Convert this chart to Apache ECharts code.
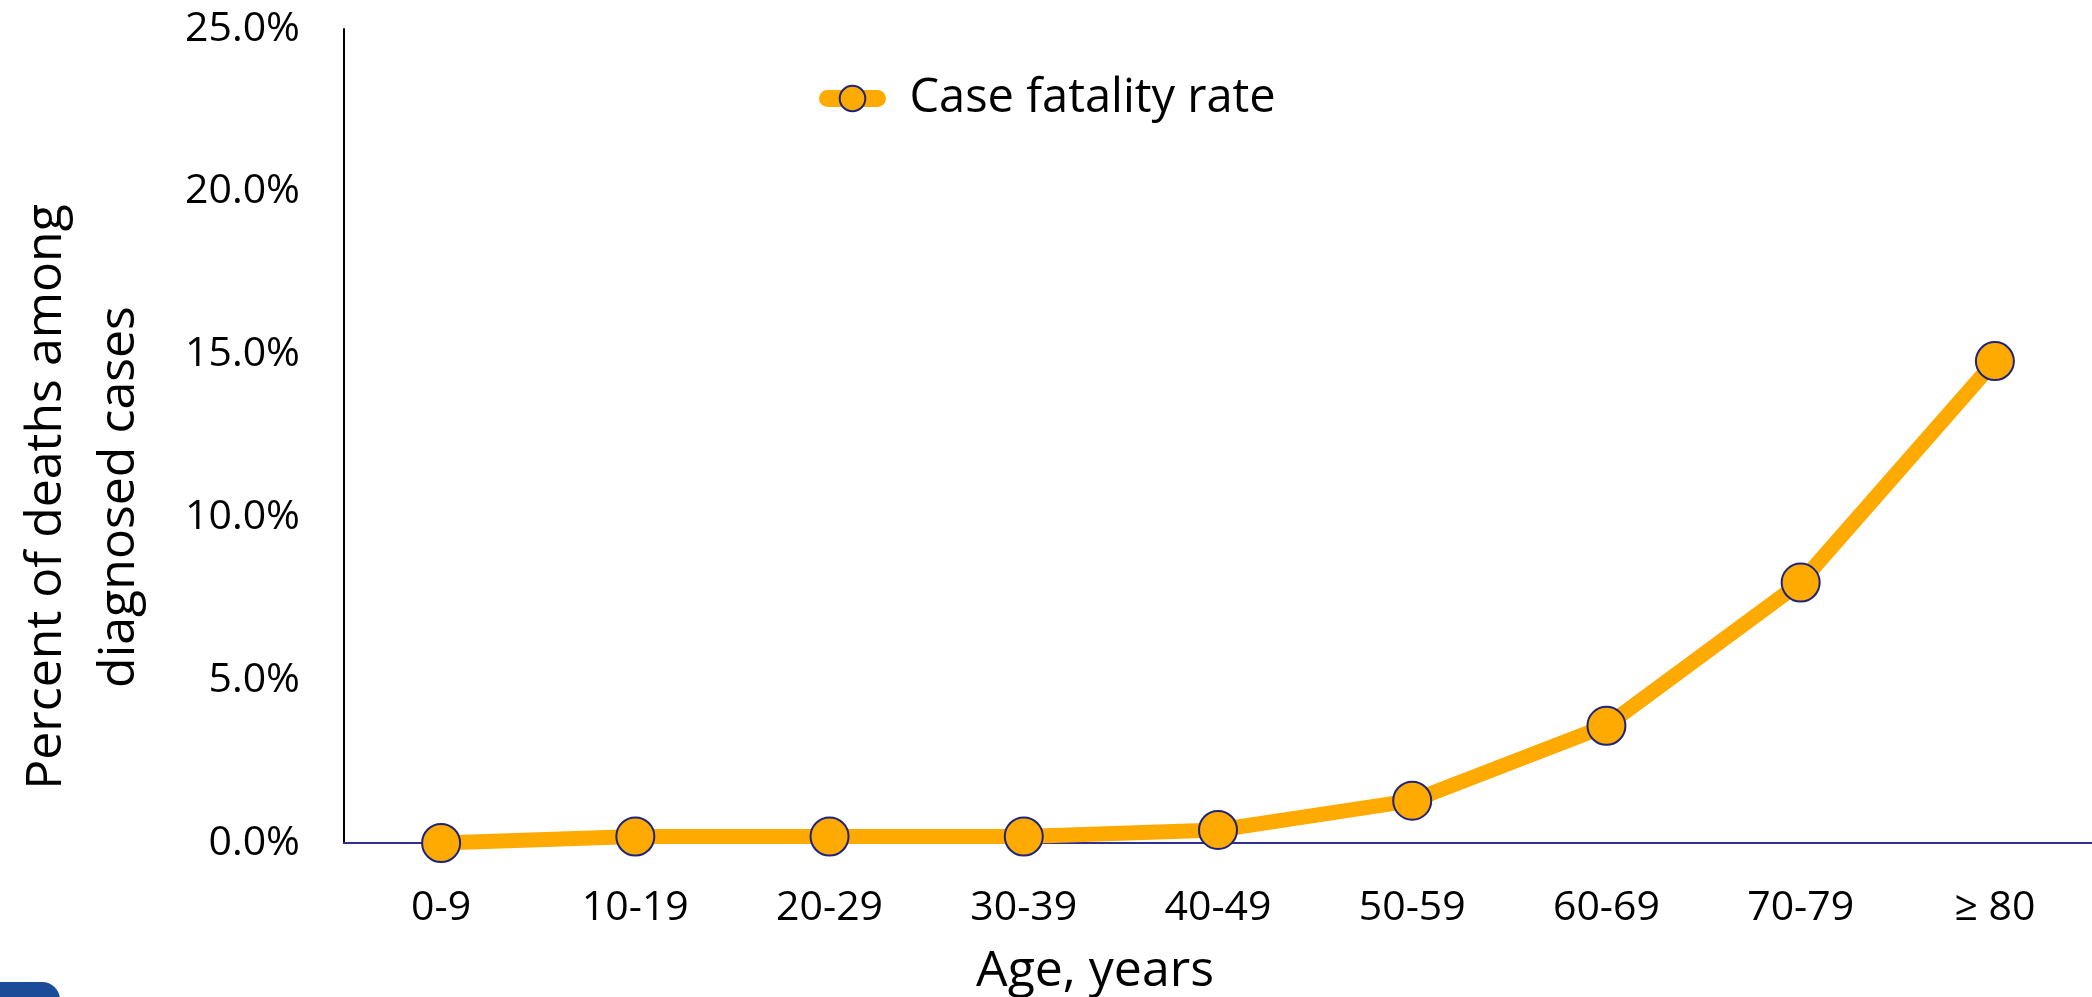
<!DOCTYPE html>
<html>
<head>
<meta charset="utf-8">
<title>Case fatality rate by age</title>
<script src="https://cdn.jsdelivr.net/npm/echarts@6/dist/echarts.min.js"></script>
<style>
  html, body { margin: 0; padding: 0; background: #fff; }
  #chart { width: 2092px; height: 997px; }
</style>
</head>
<body>
<div id="chart"></div>
<script>
// Age groups and case fatality rate (percent of deaths among diagnosed cases)
const ageGroups = ['0-9', '10-19', '20-29', '30-39', '40-49', '50-59', '60-69', '70-79', '≥ 80'];
const fatalityRate = [0.0, 0.2, 0.2, 0.2, 0.4, 1.3, 3.6, 8.0, 14.8];
const seriesName = 'Case fatality rate';
const yAxisTitle = 'Percent of deaths among\ndiagnosed cases';
const xAxisTitle = 'Age, years';

const FONT = '"Open Sans", "Liberation Sans", sans-serif';
const ORANGE = '#FFAA00';
const NAVY = '#1F237A';

const chart = echarts.init(document.getElementById('chart'), null, { renderer: 'canvas' });

chart.setOption({
  animation: false,
  backgroundColor: '#ffffff',
  grid: {
    left: 344, right: 0, top: 29, bottom: 154,
    containLabel: false,
    outerBoundsMode: 'none'
  },
  legend: {
    left: 814,
    top: 70,
    itemWidth: 50,
    itemHeight: 32,
    lineStyle: { width: 17, cap: 'round' },
    textStyle: { fontFamily: FONT, fontSize: 47, color: '#000', padding: [0, 0, 0, 27] },
    data: [seriesName]
  },
  xAxis: {
    type: 'category',
    data: ageGroups,
    boundaryGap: true,
    axisLine: { lineStyle: { color: '#2E3192', width: 2 } },
    axisTick: { show: false },
    axisLabel: { fontFamily: FONT, fontSize: 41, color: '#000', margin: 45 },
    name: xAxisTitle,
    nameLocation: 'middle',
    nameGap: 104,
    // title sits left of the axis midpoint
    nameTextStyle: { fontFamily: FONT, fontSize: 50, color: '#000', padding: [0, 246, 0, 0] }
  },
  yAxis: {
    type: 'value',
    min: 0,
    max: 25,
    interval: 5,
    splitLine: { show: false },
    axisLine: { show: true, lineStyle: { color: '#000', width: 2 } },
    axisTick: { show: false },
    axisLabel: {
      fontFamily: FONT, fontSize: 41, color: '#000', margin: 44,
      formatter: v => v.toFixed(1) + '%'
    },
    name: yAxisTitle,
    nameLocation: 'middle',
    nameRotate: 90,
    nameGap: 188,
    // title sits a little below the axis midpoint
    nameTextStyle: {
      fontFamily: FONT, fontSize: 50, color: '#000', lineHeight: 73, align: 'center',
      padding: [0, 122, 0, 0]
    }
  },
  series: [{
    name: seriesName,
    type: 'line',
    data: fatalityRate,
    symbol: 'circle',
    symbolSize: 38,
    showAllSymbol: true,
    lineStyle: { color: ORANGE, width: 15, join: 'round' },
    itemStyle: { color: ORANGE, borderColor: NAVY, borderWidth: 2 },
    z: 3
  }],
  graphic: [{
    type: 'rect',
    left: -20,
    top: 982,
    shape: { width: 80, height: 40, r: [0, 18, 0, 0] },
    style: { fill: '#1B4C97' },
    silent: true
  }]
});
</script>
</body>
</html>
